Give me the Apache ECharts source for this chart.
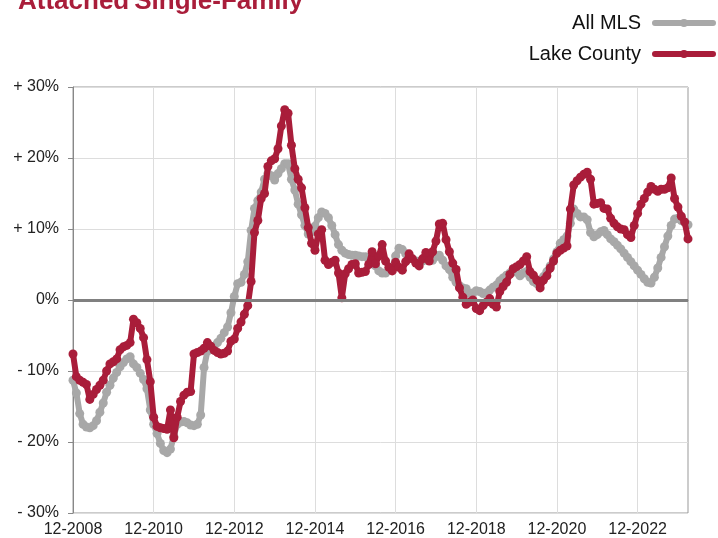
<!DOCTYPE html>
<html>
<head>
<meta charset="utf-8">
<script src="https://cdn.jsdelivr.net/npm/echarts@6/dist/echarts.min.js"></script>
<style>
  html, body { margin: 0; padding: 0; background: #fff; }
  #chart { width: 718px; height: 538px; }
</style>
</head>
<body>
<div id="chart"></div>
<script>
// month categories, 12-2008 .. 3-2024
const startMonth = 12, startYear = 2008, monthCount = 184;
const months = [];
for (let k = 0; k < monthCount; k++) {
  const m = ((startMonth - 1 + k) % 12) + 1;
  const y = startYear + Math.floor((startMonth - 1 + k) / 12);
  months.push(m + "-" + y);
}

const seriesNames = ["All MLS", "Lake County"];

// year-over-year change, percent
const allMls = [
  -11.3, -13.1, -16.0, -17.5, -17.9, -18.0, -17.7, -17.0, -15.8, -14.5,
  -13.0, -12.0, -11.0, -10.2, -9.4, -8.8, -8.3, -8.0, -9.0, -9.5,
  -10.3, -11.2, -12.5, -15.5, -17.5, -18.8, -20.2, -21.2, -21.5, -21.0,
  -19.2, -17.5, -17.2, -17.1, -17.3, -17.6, -17.7, -17.5, -16.2, -9.5,
  -7.2, -6.8, -6.5, -6.0, -5.4, -4.6, -3.8, -1.8, 0.5, 2.3,
  2.5, 3.6, 5.4, 9.8, 12.9, 14.0, 15.2, 17.0, 17.8, 17.5,
  16.9, 17.8, 18.5, 19.2, 19.2, 17.0, 15.5, 13.5, 12.0, 10.5,
  9.3, 9.6, 10.4, 11.6, 12.4, 12.2, 11.6, 10.5, 9.2, 7.8,
  7.0, 6.6, 6.4, 6.3, 6.3, 6.2, 6.1, 6.1, 5.8, 5.4,
  4.8, 4.1, 3.8, 3.8, 4.2, 4.6, 6.2, 7.3, 7.1, 6.5,
  6.1, 5.8, 5.5, 5.4, 5.5, 5.7, 5.9, 5.6, 6.1, 6.3,
  5.6, 4.8, 4.3, 3.2, 2.5, 2.0, 1.7, 1.6, 0.9, 1.0,
  1.3, 1.2, 0.9, 1.0, 1.4, 1.8, 2.1, 2.7, 3.1, 3.5,
  3.8, 4.4, 3.9, 3.4, 3.8, 4.0, 3.2, 2.6, 2.3, 2.8,
  3.3, 4.0, 4.8, 5.8, 6.8, 8.0, 8.5, 9.0, 10.8, 12.8,
  12.2, 11.7, 11.7, 11.3, 9.5, 8.9, 9.2, 9.6, 9.8, 9.2,
  8.6, 8.2, 7.7, 7.2, 6.6, 6.0, 5.4, 4.8, 4.2, 3.6,
  3.0, 2.5, 2.4, 3.2, 4.5, 6.0, 7.5, 9.0, 10.5, 11.4,
  11.5, 11.2, 10.9, 10.6
];

const lakeCounty = [
  -7.6, -10.8, -11.3, -11.6, -11.9, -14.0, -13.3, -12.6, -12.0, -11.3,
  -10.0, -9.0, -8.7, -8.3, -7.0, -6.6, -6.4, -6.0, -2.7, -3.2,
  -4.0, -5.3, -8.4, -11.5, -16.5, -17.8, -18.0, -18.1, -18.2, -15.5,
  -19.4, -16.5, -14.3, -13.4, -13.0, -12.9, -7.6, -7.4, -7.2, -6.8,
  -6.0, -6.5, -7.1, -7.4, -7.6, -7.5, -7.2, -5.8, -5.5, -4.0,
  -3.1, -2.0, -0.8, 2.6, 9.5, 11.2, 14.3, 15.0, 18.8, 19.6,
  19.9, 21.3, 24.5, 26.8, 26.3, 21.8, 18.5, 17.0, 15.8, 13.0,
  10.2, 8.0, 7.0, 9.3, 9.9, 5.6, 5.0, 5.3, 5.6, 3.8,
  0.3, 3.7, 4.4, 5.0, 5.1, 3.8, 3.9, 4.0, 5.0, 6.8,
  5.1, 6.2, 7.8, 5.5, 4.6, 4.1, 5.3, 4.6, 4.2, 5.4,
  6.5, 5.8, 5.2, 4.8, 5.8, 6.7, 5.5, 6.8, 8.3, 10.7,
  10.8, 8.5, 6.8, 5.2, 4.3, 1.7, 0.4, -0.6, -0.3, 0.0,
  -1.2, -1.5, -0.8, -0.3, 0.2, -0.6, -1.0, 1.2, 1.9, 2.5,
  3.6, 4.4, 4.7, 5.0, 5.5, 6.1, 4.0, 3.5, 2.8, 1.7,
  2.8, 3.4, 4.5, 5.5, 6.6, 7.0, 7.3, 7.6, 12.8, 16.2,
  16.8, 17.3, 17.7, 18.0, 17.0, 13.5, 13.6, 13.7, 12.9, 12.8,
  11.5, 10.8, 10.3, 10.0, 9.9, 9.2, 8.8, 10.5, 12.2, 13.5,
  14.3, 15.2, 16.0, 15.6, 15.3, 15.6, 15.6, 15.8, 17.2, 14.3,
  13.1, 11.8, 11.0, 8.6
];

const yMin = -30, yMax = 30, yStep = 10;

const RED = "#A91D3A";
const GRAY = "#A8A8A8";
const FONT = "Liberation Sans, Arial, sans-serif";

// capsule with a dot in the middle, like the legend swatches in the original
const LEGEND_ICON =
  "path://M3,2 L61,2 A3,3 0 0 1 61,8 L3,8 A3,3 0 0 1 3,2 Z " +
  "M28,5 A4,4 0 1 1 36,5 A4,4 0 1 1 28,5 Z";

const chart = echarts.init(document.getElementById("chart"), null, { renderer: "canvas" });

const option = {
  animation: false,
  backgroundColor: "#fff",
  title: {
    text: "{b|Attached} {r|Single-Family}",
    left: 13,
    top: -16,
    textStyle: {
      rich: {
        b: { fontFamily: FONT, fontSize: 26, fontWeight: "bold", color: RED },
        r: { fontFamily: FONT, fontSize: 26, color: RED },
      },
    },
  },
  legend: {
    orient: "vertical",
    right: -3,
    top: 8,
    align: "right",
    itemWidth: 64,
    itemHeight: 10,
    itemGap: 11,
    textStyle: { fontFamily: FONT, fontSize: 20, color: "#111", padding: [0, 6, 0, 0] },
    data: seriesNames.map((n) => ({ name: n, icon: LEGEND_ICON })),
  },
  grid: {
    left: 73,
    right: 30,
    top: 87,
    bottom: 25,
    show: true,
    borderColor: "#999",
    borderWidth: 1,
  },
  xAxis: {
    type: "category",
    data: months,
    boundaryGap: false,
    axisLine: { lineStyle: { color: "#888", width: 1 } },
    axisTick: { show: false },
    axisLabel: {
      interval: 23,
      fontFamily: FONT,
      fontSize: 16,
      color: "#222",
      margin: 9,
    },
    splitLine: { show: true, interval: 23, lineStyle: { color: "#ddd", width: 1 } },
  },
  yAxis: {
    type: "value",
    min: yMin,
    max: yMax,
    interval: yStep,
    axisLine: { show: true, lineStyle: { color: "#888", width: 1 } },
    axisTick: { show: true, length: 5, lineStyle: { color: "#888" } },
    axisLabel: {
      fontFamily: FONT,
      fontSize: 16,
      color: "#222",
      margin: 14,
      formatter: (v) => (v > 0 ? "+ " + v + "%" : v < 0 ? "- " + -v + "%" : "0%"),
    },
    splitLine: { lineStyle: { color: "#ddd", width: 1 } },
  },
  series: [
    {
      // zero line underneath the data
      type: "line",
      data: [],
      z: 1,
      silent: true,
      markLine: {
        silent: true,
        symbol: "none",
        label: { show: false },
        lineStyle: { color: "#808080", width: 3, type: "solid" },
        data: [{ yAxis: 0 }],
      },
    },
    {
      name: seriesNames[0],
      type: "line",
      data: allMls,
      z: 2,
      symbol: "circle",
      symbolSize: 9,
      showAllSymbol: true,
      lineStyle: { color: GRAY, width: 6 },
      itemStyle: { color: GRAY },
    },
    {
      name: seriesNames[1],
      type: "line",
      data: lakeCounty,
      z: 3,
      symbol: "circle",
      symbolSize: 9,
      showAllSymbol: true,
      lineStyle: { color: RED, width: 6 },
      itemStyle: { color: RED },
    },
  ],
};

chart.setOption(option);
</script>
</body>
</html>
